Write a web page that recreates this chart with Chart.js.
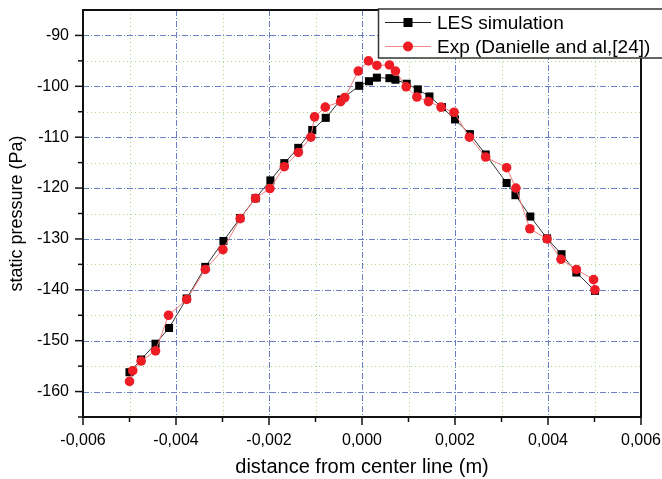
<!DOCTYPE html>
<html>
<head>
<meta charset="utf-8">
<script src="https://cdn.jsdelivr.net/npm/chart.js@4.4.1/dist/chart.umd.min.js"></script>
<style>
    html, body { margin: 0; padding: 0; background: #ffffff; }
    #pressureChart { display: block; }
</style>
</head>
<body>
<canvas id="pressureChart" width="662" height="479"></canvas>
<script>
// LES simulation (m, Pa)
const lesX = [-0.00500, -0.00475, -0.00444, -0.00415, -0.00377, -0.00337, -0.00298, -0.00262, -0.00229, -0.00197,
    -0.00167, -0.00137, -0.00107, -0.00078, -0.00045, -0.00006, 0.00015, 0.00032, 0.00059, 0.00072,
    0.00096, 0.00120, 0.00145, 0.00172, 0.00200, 0.00232, 0.00266, 0.00311, 0.00330, 0.00362,
    0.00398, 0.00429, 0.00461, 0.00501];
const lesP = [-156.2, -153.7, -150.6, -147.5, -141.7, -135.5, -130.4, -125.9, -122.0, -118.5,
    -115.1, -112.1, -108.6, -106.2, -102.6, -99.9, -99.0, -98.3, -98.4, -98.7,
    -99.5, -100.6, -102.0, -104.1, -106.5, -109.4, -113.4, -119.0, -121.4, -125.6,
    -129.9, -133.0, -136.6, -140.2];

// Experiment (Danielle and al, [24])
const expX = [-0.00500, -0.00493, -0.00475, -0.00444, -0.00416, -0.00377, -0.00337, -0.00299, -0.00262, -0.00229,
    -0.00198, -0.00167, -0.00137, -0.00110, -0.00102, -0.00079, -0.00046, -0.00037, -0.00008, 0.00014,
    0.00032, 0.00059, 0.00072, 0.00095, 0.00118, 0.00143, 0.00170, 0.00198, 0.00231, 0.00266,
    0.00311, 0.00331, 0.00361, 0.00398, 0.00428, 0.00461, 0.00498, 0.00501];
const expP = [-158.0, -155.9, -154.0, -152.0, -145.0, -141.9, -136.0, -132.1, -126.0, -122.0,
    -120.1, -115.8, -113.0, -110.0, -106.0, -104.1, -103.0, -102.2, -97.0, -95.0,
    -95.9, -95.8, -97.0, -100.1, -102.1, -103.0, -104.1, -105.1, -110.0, -113.9,
    -116.0, -120.0, -128.0, -130.0, -134.0, -136.0, -138.0, -140.0];

const seriesNames = ['LES simulation', 'Exp (Danielle and al,[24])'];
const xTitle = 'distance from center line (m)';
const yTitle = 'static pressure (Pa)';

const FONT = '"Liberation Sans", Arial, sans-serif';

function toPoints(xs, ys) {
    return xs.map((x, i) => ({ x: x, y: ys[i] }));
}

// grid, frame, tick marks and the legend box
const framePlugin = {
    id: 'framePlugin',
    beforeDatasetsDraw(chart) {
        const ctx = chart.ctx;
        const area = chart.chartArea;
        const xs = chart.scales.x;
        const ys = chart.scales.y;
        ctx.save();
        ctx.lineWidth = 1;
        xs.ticks.forEach(t => {
            const k = Math.round(t.value * 1000);
            if (k <= -6 || k >= 6) return;
            const px = Math.round(xs.getPixelForValue(t.value)) + 0.5;
            const major = k % 2 === 0;
            ctx.strokeStyle = major ? '#6a7ec2' : '#a9d98e';
            ctx.setLineDash(major ? [6, 2, 1, 2] : [1, 3]);
            ctx.beginPath();
            ctx.moveTo(px, area.top);
            ctx.lineTo(px, area.bottom);
            ctx.stroke();
        });
        ys.ticks.forEach(t => {
            const v = Math.round(t.value);
            if (v <= -165 || v >= -85) return;
            const py = Math.round(ys.getPixelForValue(t.value)) + 0.5;
            const major = v % 10 === 0;
            ctx.strokeStyle = major ? '#6a7ec2' : '#a9d98e';
            ctx.setLineDash(major ? [6, 2, 1, 2] : [1, 3]);
            ctx.beginPath();
            ctx.moveTo(area.left, py);
            ctx.lineTo(area.right, py);
            ctx.stroke();
        });
        ctx.restore();
    },
    afterDatasetsDraw(chart) {
        const ctx = chart.ctx;
        const area = chart.chartArea;
        const xs = chart.scales.x;
        const ys = chart.scales.y;
        ctx.save();
        ctx.setLineDash([]);
        ctx.strokeStyle = '#111111';
        ctx.lineWidth = 2;
        ctx.strokeRect(area.left, area.top, area.right - area.left, area.bottom - area.top);

        ctx.lineWidth = 1.5;
        xs.ticks.forEach(t => {
            const k = Math.round(t.value * 1000);
            const px = xs.getPixelForValue(t.value);
            const len = k % 2 === 0 ? 8 : 5;
            ctx.beginPath();
            ctx.moveTo(px, area.bottom);
            ctx.lineTo(px, area.bottom + len);
            ctx.stroke();
        });
        ys.ticks.forEach(t => {
            const v = Math.round(t.value);
            if (v >= -85) return;
            const py = ys.getPixelForValue(t.value);
            const len = v % 10 === 0 ? 8 : 5;
            ctx.beginPath();
            ctx.moveTo(area.left - len, py);
            ctx.lineTo(area.left, py);
            ctx.stroke();
        });
        ctx.restore();
    },
    afterDraw(chart) {
        const ctx = chart.ctx;
        const boxX = 378.5, boxY = 9, boxW = 300, boxH = 49;
        ctx.save();
        ctx.fillStyle = '#ffffff';
        ctx.fillRect(boxX, boxY, boxW, boxH);
        ctx.strokeStyle = '#333333';
        ctx.lineWidth = 1.5;
        ctx.strokeRect(boxX, boxY, boxW, boxH);

        const rows = [
            { y: 22.5, line: '#222222', marker: 'rect', fill: '#000000' },
            { y: 46.5, line: '#f08a8a', marker: 'circle', fill: '#ee1c24' }
        ];
        rows.forEach((r, i) => {
            ctx.strokeStyle = r.line;
            ctx.lineWidth = 1.2;
            ctx.beginPath();
            ctx.moveTo(385, r.y);
            ctx.lineTo(431, r.y);
            ctx.stroke();
            ctx.fillStyle = r.fill;
            if (r.marker === 'rect') {
                ctx.fillRect(408 - 4.5, r.y - 4.5, 9, 9);
            } else {
                ctx.beginPath();
                ctx.arc(408, r.y, 5, 0, Math.PI * 2);
                ctx.fill();
            }
            ctx.fillStyle = '#000000';
            ctx.font = '19px ' + FONT;
            ctx.textBaseline = 'middle';
            ctx.textAlign = 'left';
            ctx.fillText(seriesNames[i], 437, r.y + 1);
        });
        ctx.restore();
    }
};

const ctx = document.getElementById('pressureChart').getContext('2d');

new Chart(ctx, {
    type: 'scatter',
    data: {
        datasets: [
            {
                label: seriesNames[0],
                data: toPoints(lesX, lesP),
                showLine: true,
                borderColor: '#333333',
                borderWidth: 1,
                backgroundColor: '#000000',
                pointStyle: 'rect',
                pointRadius: 5.7,
                pointBorderWidth: 0,
                pointHoverRadius: 5.7,
                order: 1
            },
            {
                label: seriesNames[1],
                data: toPoints(expX, expP),
                showLine: true,
                borderColor: '#f07a7a',
                borderWidth: 1,
                backgroundColor: '#ee1c24',
                pointStyle: 'circle',
                pointRadius: 4.8,
                pointBorderWidth: 0,
                pointHoverRadius: 4.8,
                order: 0
            }
        ]
    },
    options: {
        responsive: false,
        animation: false,
        layout: {
            padding: { left: 0, right: 21, top: 10, bottom: 0 }
        },
        plugins: {
            legend: { display: false },
            tooltip: { enabled: false }
        },
        scales: {
            x: {
                type: 'linear',
                min: -0.006,
                max: 0.006,
                grid: { display: false },
                border: { display: false },
                ticks: {
                    stepSize: 0.001,
                    autoSkip: false,
                    maxRotation: 0,
                    padding: 6,
                    color: '#000000',
                    font: { family: FONT, size: 16 },
                    callback: function (value) {
                        const k = Math.round(value * 1000);
                        if (k % 2 !== 0) return '';
                        return (k / 1000).toFixed(3).replace('.', ',');
                    }
                },
                title: {
                    display: true,
                    text: xTitle,
                    color: '#000000',
                    font: { family: FONT, size: 20 },
                    padding: { top: 0, bottom: 0 }
                },
                afterFit: function (scale) {
                    scale.height = 62;
                    scale.paddingLeft = 0;
                    scale.paddingRight = 0;
                }
            },
            y: {
                type: 'linear',
                min: -165,
                max: -85,
                grid: { display: false },
                border: { display: false },
                ticks: {
                    stepSize: 5,
                    autoSkip: false,
                    padding: 6,
                    color: '#000000',
                    font: { family: FONT, size: 16 },
                    callback: function (value) {
                        const v = Math.round(value);
                        if (v % 10 !== 0 || v <= -165 || v >= -85) return '';
                        return String(v);
                    }
                },
                title: {
                    display: true,
                    text: yTitle,
                    color: '#000000',
                    font: { family: FONT, size: 18 },
                    padding: { top: 6, bottom: 0 }
                },
                afterFit: function (scale) {
                    scale.width = 83;
                    scale.paddingTop = 0;
                    scale.paddingBottom = 0;
                }
            }
        }
    },
    plugins: [framePlugin]
});
</script>
</body>
</html>
